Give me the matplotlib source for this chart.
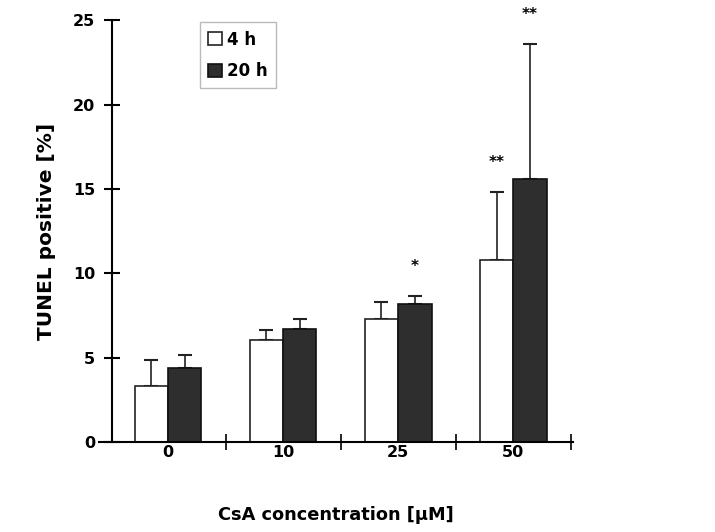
import numpy as np
import matplotlib
matplotlib.use("Agg")
import matplotlib.pyplot as plt

# values
conc = ["0", "10", "25", "50"]
tunel_4h = [3.3, 6.05, 7.3, 10.8]
err_4h = [1.55, 0.6, 1.0, 4.0]
tunel_20h = [4.4, 6.7, 8.2, 15.6]
err_20h = [0.75, 0.6, 0.45, 8.0]
stars_4h = ["", "", "", "**"]
stars_20h = ["", "", "*", "**"]

plt.rcParams['font.family'] = ['DejaVu Sans']
plt.rcParams['font.weight'] = 'bold'

fig = plt.figure(figsize=(7.15, 5.32), dpi=100)
ax = fig.add_axes([0.1385, 0.169, 0.663, 0.793])

x = np.arange(len(conc))
w = 0.29
ax.bar(x - w / 2, tunel_4h, w, color='white', edgecolor='#222222', linewidth=1.2, label='4 h', zorder=2)
ax.bar(x + w / 2, tunel_20h, w, color='#2e2e2e', edgecolor='#111111', linewidth=1.2, label='20 h', zorder=2)
ax.errorbar(x - w / 2, tunel_4h, yerr=[np.zeros(4), err_4h], fmt='none', ecolor='#222222',
            elinewidth=1.2, capsize=5, capthick=1.5, zorder=1)
ax.errorbar(x + w / 2, tunel_20h, yerr=[np.zeros(4), err_20h], fmt='none', ecolor='#222222',
            elinewidth=1.2, capsize=5, capthick=1.5, zorder=1)

for i in range(len(conc)):
    if stars_4h[i]:
        ax.text(x[i] - w / 2, tunel_4h[i] + err_4h[i] + 1.3, stars_4h[i], ha='center', va='bottom', fontsize=11)
    if stars_20h[i]:
        ax.text(x[i] + w / 2, tunel_20h[i] + err_20h[i] + 1.3, stars_20h[i], ha='center', va='bottom', fontsize=11)

ax.set_xlim(-0.6, 3.52)
ax.set_ylim(0, 25)
ax.set_yticks([0, 5, 10, 15, 20, 25])
ax.set_xticks(x)
ax.set_xticklabels(conc, fontsize=11.5)
ax.tick_params(axis='x', length=0, pad=2)
ax.set_xticks([0.5, 1.5, 2.5, 3.5], minor=True)
ax.tick_params(axis='x', which='minor', direction='inout', length=12, width=1.2)
ax.tick_params(axis='y', direction='inout', length=12, width=1.5, labelsize=11.5, pad=6)
for s in ['top', 'right']:
    ax.spines[s].set_visible(False)
ax.spines['left'].set_linewidth(1.5)
ax.spines['bottom'].set_linewidth(1.5)
ax.spines['left'].set_position(('data', -0.487))

ax.set_ylabel('TUNEL positive [%]', fontsize=14.5, fontweight='bold', labelpad=12)
ax.set_xlabel('CsA concentration [µM]', fontsize=12.8, fontweight='bold', labelpad=33)

leg = ax.legend(loc='upper left', bbox_to_anchor=(0.213, 0.995), fontsize=12, frameon=True,
                fancybox=False, edgecolor='#aaaaaa', handlelength=0.8, handleheight=0.8,
                handletextpad=0.3, borderpad=0.5, labelspacing=0.8, borderaxespad=0)
leg.get_frame().set_linewidth(1.0)

fig.savefig('out.png', dpi=100)
